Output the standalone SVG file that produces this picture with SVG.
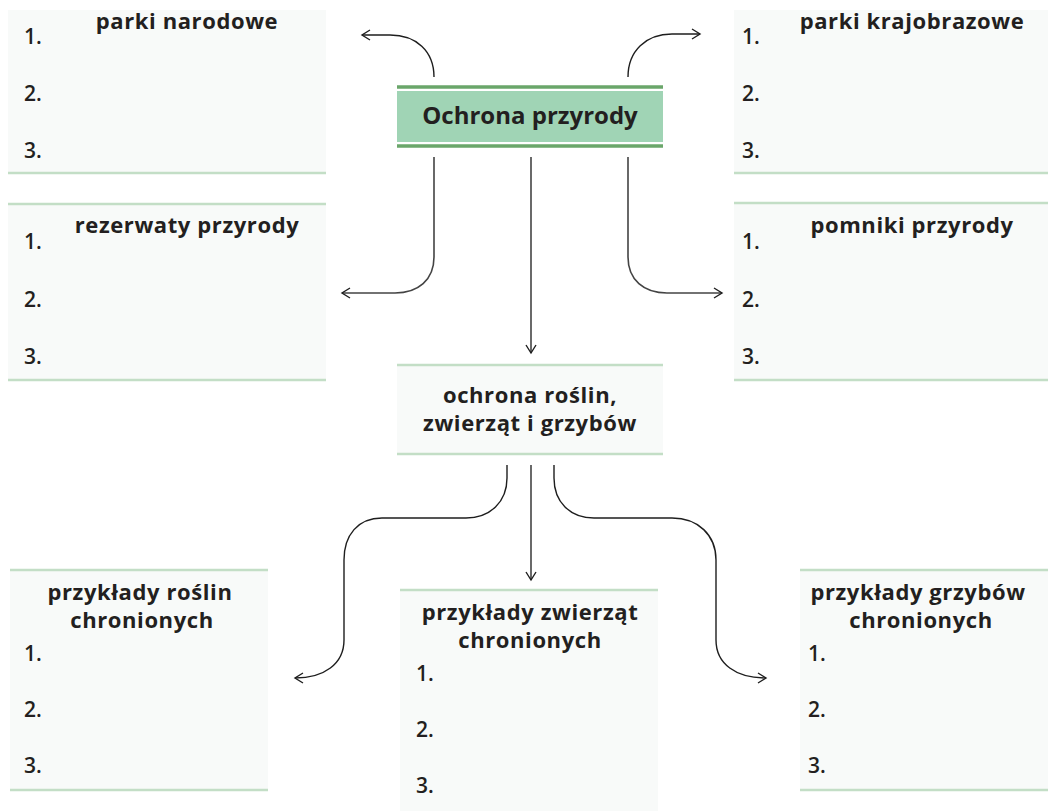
<svg xmlns="http://www.w3.org/2000/svg" width="1048" height="811" viewBox="0 0 1048 811">
<style>
.bg{fill:#f8faf9}
.gl{stroke:#c3dec6;stroke-width:2.5;fill:none}
.ml{stroke:#6aa66a;stroke-width:3.5;fill:none}
.t{font-family:"Open Sans","Liberation Sans",sans-serif;font-weight:700;font-size:22px;fill:#231f20;text-anchor:middle;letter-spacing:0.6px}
.n{font-family:"Open Sans","Liberation Sans",sans-serif;font-weight:600;font-size:21px;fill:#231f20}
.c{stroke:#1e1e1e;stroke-width:1.4;fill:none;marker-end:url(#ah)}
.cv{stroke:#444;stroke-width:1.6;fill:none;marker-end:url(#ah)}
</style>
<defs>
<marker id="ah" viewBox="-10 -7 12 14" refX="0" refY="0" markerWidth="12" markerHeight="14" orient="auto" markerUnits="userSpaceOnUse">
<path d="M-8,-5 L0,0 L-8,5" fill="none" stroke="#1e1e1e" stroke-width="1.4"/>
</marker>
</defs>

<g id="parki-narodowe">
<rect class="bg" x="8" y="10" width="318" height="162"/>
<line class="gl" x1="8" y1="173" x2="326" y2="173"/>
<text class="t" x="187" y="29">parki narodowe</text>
<text class="n" x="24" y="44">1.</text>
<text class="n" x="24" y="101">2.</text>
<text class="n" x="24" y="158">3.</text>
</g>

<g id="parki-krajobrazowe">
<rect class="bg" x="734" y="10" width="314" height="162"/>
<line class="gl" x1="734" y1="173" x2="1048" y2="173"/>
<text class="t" x="912" y="29">parki krajobrazowe</text>
<text class="n" x="742" y="44">1.</text>
<text class="n" x="742" y="101">2.</text>
<text class="n" x="742" y="158">3.</text>
</g>

<g id="ochrona-przyrody">
<rect x="397" y="91" width="266" height="51" fill="#a0d4b5"/>
<line class="ml" x1="397" y1="87" x2="663" y2="87"/>
<line class="ml" x1="397" y1="146" x2="663" y2="146"/>
<text x="530" y="124" style="font-family:'Open Sans','Liberation Sans',sans-serif;font-weight:700;font-size:24px;fill:#231f20;text-anchor:middle">Ochrona przyrody</text>
</g>

<g id="rezerwaty-przyrody">
<rect class="bg" x="8" y="204" width="318" height="176"/>
<line class="gl" x1="8" y1="204" x2="326" y2="204"/>
<line class="gl" x1="8" y1="380" x2="326" y2="380"/>
<text class="t" x="187" y="233">rezerwaty przyrody</text>
<text class="n" x="24" y="249">1.</text>
<text class="n" x="24" y="307">2.</text>
<text class="n" x="24" y="364">3.</text>
</g>

<g id="pomniki-przyrody">
<rect class="bg" x="734" y="203" width="314" height="177"/>
<line class="gl" x1="734" y1="203" x2="1048" y2="203"/>
<line class="gl" x1="734" y1="380" x2="1048" y2="380"/>
<text class="t" x="912" y="233">pomniki przyrody</text>
<text class="n" x="742" y="249">1.</text>
<text class="n" x="742" y="307">2.</text>
<text class="n" x="742" y="364">3.</text>
</g>

<g id="ochrona-roslin">
<rect class="bg" x="397" y="365" width="266" height="89"/>
<line class="gl" x1="397" y1="365" x2="663" y2="365"/>
<line class="gl" x1="397" y1="454" x2="663" y2="454"/>
<text class="t" x="530" y="403">ochrona roślin,</text>
<text class="t" x="530" y="431">zwierząt i grzybów</text>
</g>

<g id="rosliny">
<rect class="bg" x="10" y="570" width="258" height="220"/>
<line class="gl" x1="10" y1="570" x2="268" y2="570"/>
<line class="gl" x1="10" y1="790" x2="268" y2="790"/>
<text class="t" x="140" y="600">przykłady roślin</text>
<text class="t" x="142" y="628">chronionych</text>
<text class="n" x="24" y="661">1.</text>
<text class="n" x="24" y="717">2.</text>
<text class="n" x="24" y="773">3.</text>
</g>

<g id="zwierzeta">
<rect class="bg" x="400" y="590" width="258" height="221"/>
<line class="gl" x1="400" y1="590" x2="658" y2="590"/>
<text class="t" x="530" y="620">przykłady zwierząt</text>
<text class="t" x="530" y="648">chronionych</text>
<text class="n" x="416" y="681">1.</text>
<text class="n" x="416" y="737">2.</text>
<text class="n" x="416" y="793">3.</text>
</g>

<g id="grzyby">
<rect class="bg" x="800" y="570" width="248" height="220"/>
<line class="gl" x1="800" y1="570" x2="1048" y2="570"/>
<line class="gl" x1="800" y1="790" x2="1048" y2="790"/>
<text class="t" x="918" y="600">przykłady grzybów</text>
<text class="t" x="921" y="628">chronionych</text>
<text class="n" x="808" y="661">1.</text>
<text class="n" x="808" y="717">2.</text>
<text class="n" x="808" y="773">3.</text>
</g>

<g id="connectors">
<path class="c" d="M434,77 C434,51 416,35 390,35 L362,35"/>
<path class="c" d="M628,77 C628,51 646,34 672,34 L700,34"/>
<path class="cv" d="M434,157 L434,257 C434,280 418,293 395,293 L342,293"/>
<path class="cv" d="M531,157 L531,353"/>
<path class="cv" d="M628,157 L628,257 C628,280 644,293 667,293 L722,293"/>
<path class="c" d="M507,465 L507,478 C507,502 490,518 466,518 L382,518 C358,518 344,535 344,560 L344,640 C344,664 324,678 295,678"/>
<path class="cv" d="M531,465 L531,580"/>
<path class="c" d="M554,465 L554,478 C554,502 570,518 594,518 L672,518 C698,518 716,535 716,560 L716,640 C716,664 736,678 766,678"/>
</g>
</svg>
